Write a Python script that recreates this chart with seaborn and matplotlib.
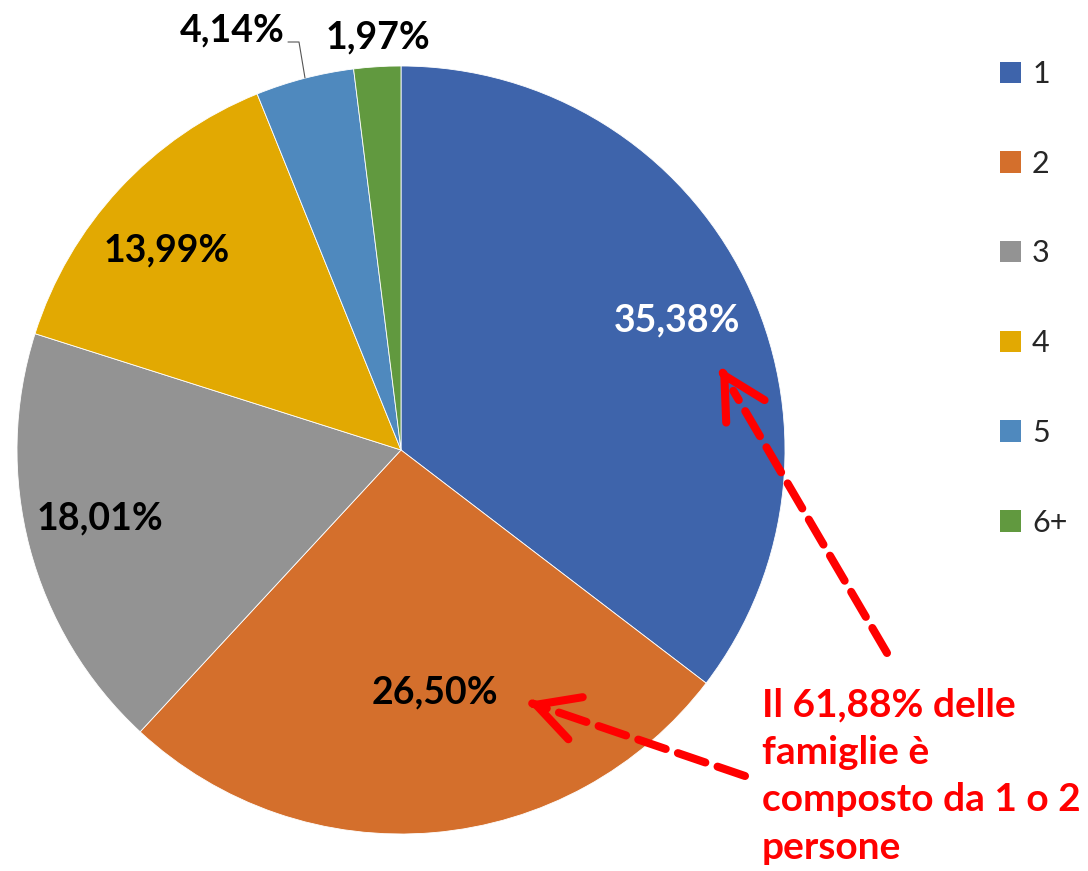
import matplotlib
matplotlib.use("Agg")
import matplotlib.pyplot as plt
from matplotlib.patches import Patch
import seaborn as sns

# household size shares (%)
categories = ['1', '2', '3', '4', '5', '6+']
shares = [35.38, 26.50, 18.01, 13.99, 4.14, 1.97]
share_labels = ['35,38%', '26,50%', '18,01%', '13,99%', '4,14%', '1,97%']
colors = ['#3E64AB', '#D46F2C', '#939393', '#E2A902', '#4F89BE', '#61993F']
note = 'Il 61,88% delle\nfamiglie è\ncomposto da 1 o 2\npersone'

sns.set_theme(style='white')
plt.rcParams['font.family'] = ['Lato', 'DejaVu Sans']

W, H = 1088, 871
fig = plt.figure(figsize=(W / 100, H / 100), dpi=100)
ax = fig.add_axes([0, 0, 1, 1])

def P(x, y):
    # pixel position (from top-left) -> data coords
    return (x, H - y)

cx, cy = P(401, 450)
R = 384
wedges, _ = ax.pie(shares, colors=colors, startangle=90, counterclock=False,
                   center=(cx, cy), radius=R,
                   wedgeprops=dict(linewidth=0.6, edgecolor='white'))
ax.set_xlim(0, W)
ax.set_ylim(0, H)
ax.set_aspect('equal')
ax.axis('off')

# data labels
lab_pos = [(677, 320), (435, 692), (100, 518), (167, 250), (232, 30), (378, 37)]
lab_col = ['white', 'black', 'black', 'black', 'black', 'black']
for txt, (x, y), c in zip(share_labels, lab_pos, lab_col):
    ax.text(*P(x, y), txt, ha='center', va='center', fontsize=27,
            fontweight='bold', color=c)

# leader line for the 4,14% label
lx, ly = zip(P(288, 42), P(299, 42), P(305, 78))
ax.plot(lx, ly, color='#555555', lw=0.8)

# legend
handles = [Patch(facecolor=c, edgecolor='none') for c in colors]
fig.legend(handles, categories, loc='upper left', bbox_to_anchor=(1000 / W, 1 - 60 / H),
           frameon=False, fontsize=22, labelspacing=2.02, handlelength=0.7,
           handleheight=0.7, handletextpad=0.35, borderpad=0, borderaxespad=0)

# red note with dashed arrows
ax.text(*P(762, 776), note, ha='left', va='center', fontsize=28,
        fontweight='bold', color='#FF0000', linespacing=1.43)

red = '#FF0000'
for tail, tip in [((887, 653), (720, 368)), ((745, 776), (528, 702))]:
    tx, ty = P(*tail)
    hx, hy = P(*tip)
    # dashed shaft, stopping short of the tip
    f = 0.92
    ax.annotate('', xy=(tx + (hx - tx) * f, ty + (hy - ty) * f), xytext=(tx, ty),
                arrowprops=dict(arrowstyle='-', color=red, lw=5.8,
                                linestyle=(0, (3.6, 1.6)), shrinkA=0, shrinkB=0))
    # open head
    ax.annotate('', xy=(hx, hy), xytext=(hx + (tx - hx) * 0.02, hy + (ty - hy) * 0.02),
                arrowprops=dict(arrowstyle='->,head_length=3.0,head_width=1.6',
                                mutation_scale=10, color=red, lw=5.8,
                                shrinkA=0, shrinkB=0, capstyle='round',
                                joinstyle='round'))

fig.savefig('out.png', dpi=100)
